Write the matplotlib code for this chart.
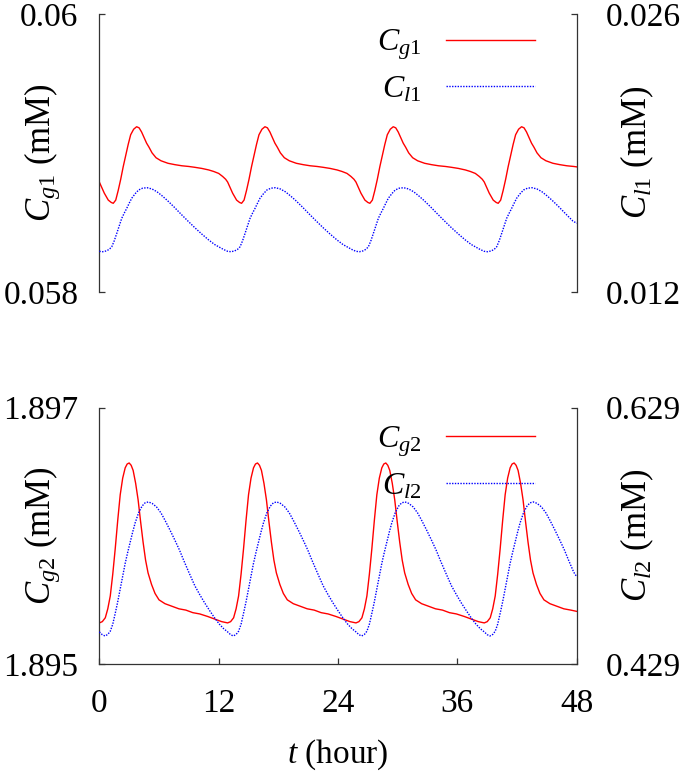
import numpy as np
import matplotlib
matplotlib.use('Agg')
import matplotlib.pyplot as plt

plt.rcParams['font.family'] = ['Liberation Serif', 'DejaVu Serif']
plt.rcParams['mathtext.fontset'] = 'custom'
plt.rcParams['mathtext.rm'] = 'Liberation Serif'
plt.rcParams['mathtext.it'] = 'Liberation Serif:italic'

# ---- top panel: C_g1 (left axis) ----
T_CG1 = [0.0, 0.5, 0.9, 1.2, 1.4, 1.65, 1.9, 2.15, 2.4, 2.65, 2.9, 3.15, 3.45, 3.75, 4.0, 4.25, 4.5,
         4.75, 5.0, 5.3, 5.7, 6.2, 6.9, 7.6, 8.3, 9.0, 9.6, 10.3, 11.0, 11.5, 12.0, 12.4, 12.7,
         12.9, 13.4, 13.8, 14.1, 14.3, 14.55, 14.8, 15.05, 15.3, 15.55, 15.8, 16.05, 16.35, 16.65, 16.9, 17.15, 17.4,
         17.65, 17.9, 18.2, 18.6, 19.1, 19.8, 20.5, 21.2, 21.9, 22.5, 23.2, 23.9, 24.4, 24.9, 25.3, 25.6,
         25.8, 26.3, 26.7, 27.0, 27.2, 27.45, 27.7, 27.95, 28.2, 28.45, 28.7, 28.95, 29.25, 29.55, 29.8, 30.05, 30.3,
         30.55, 30.8, 31.1, 31.5, 32.0, 32.7, 33.4, 34.1, 34.8, 35.4, 36.1, 36.8, 37.3, 37.8, 38.2, 38.5,
         38.7, 39.2, 39.6, 39.9, 40.1, 40.35, 40.6, 40.85, 41.1, 41.35, 41.6, 41.85, 42.15, 42.45, 42.7, 42.95, 43.2,
         43.45, 43.7, 44.0, 44.4, 44.9, 45.6, 46.3, 47.0, 47.7, 48.0]
CG1 = [0.05879, 0.05871, 0.05866, 0.058643, 0.058637, 0.05866, 0.05873, 0.05881, 0.05890, 0.05898, 0.05906,
       0.05913, 0.05917, 0.059188, 0.05918, 0.05915, 0.05911, 0.05907, 0.05904, 0.05900, 0.058965, 0.058943,
       0.058925, 0.058915, 0.058907, 0.058902, 0.058896, 0.058888, 0.058877, 0.058866, 0.058852, 0.05883, 0.05881,
       0.05879, 0.05871, 0.05866, 0.058643, 0.058637, 0.05866, 0.05873, 0.05881, 0.05890, 0.05898, 0.05906,
       0.05913, 0.05917, 0.059188, 0.05918, 0.05915, 0.05911, 0.05907, 0.05904, 0.05900, 0.058965, 0.058943,
       0.058925, 0.058915, 0.058907, 0.058902, 0.058896, 0.058888, 0.058877, 0.058866, 0.058852, 0.05883, 0.05881,
       0.05879, 0.05871, 0.05866, 0.058643, 0.058637, 0.05866, 0.05873, 0.05881, 0.05890, 0.05898, 0.05906,
       0.05913, 0.05917, 0.059188, 0.05918, 0.05915, 0.05911, 0.05907, 0.05904, 0.05900, 0.058965, 0.058943,
       0.058925, 0.058915, 0.058907, 0.058902, 0.058896, 0.058888, 0.058877, 0.058866, 0.058852, 0.05883, 0.05881,
       0.05879, 0.05871, 0.05866, 0.058643, 0.058637, 0.05866, 0.05873, 0.05881, 0.05890, 0.05898, 0.05906,
       0.05913, 0.05917, 0.059188, 0.05918, 0.05915, 0.05911, 0.05907, 0.05904, 0.05900, 0.058965, 0.058943,
       0.058925, 0.058915, 0.058907, 0.058902, 0.058899]

# ---- top panel: C_l1 (right axis) ----
T_CL1 = [0.0, 0.35, 0.7, 1.0, 1.25, 1.5, 1.75, 2.0, 2.25, 2.5, 2.75, 3.0, 3.25, 3.6, 3.95, 4.35, 4.8, 5.3,
         5.8, 6.3, 6.8, 7.5, 8.2, 8.9, 9.6, 10.3, 11.0, 11.6, 12.1, 12.5,
         12.9, 13.25, 13.6, 13.9, 14.15, 14.4, 14.65, 14.9, 15.15, 15.4, 15.65, 15.9, 16.15, 16.5, 16.85, 17.25, 17.7,
         18.2, 18.7, 19.2, 19.7, 20.4, 21.1, 21.8, 22.5, 23.2, 23.9, 24.5, 25.0, 25.4,
         25.8, 26.15, 26.5, 26.8, 27.05, 27.3, 27.55, 27.8, 28.05, 28.3, 28.55, 28.8, 29.05, 29.4, 29.75, 30.15, 30.6,
         31.1, 31.6, 32.1, 32.6, 33.3, 34.0, 34.7, 35.4, 36.1, 36.8, 37.4, 37.9, 38.3,
         38.7, 39.05, 39.4, 39.7, 39.95, 40.2, 40.45, 40.7, 40.95, 41.2, 41.45, 41.7, 41.95, 42.3, 42.65, 43.05, 43.5,
         44.0, 44.5, 45.0, 45.5, 46.2, 46.9, 47.6, 48.0]
CL1 = [0.01404, 0.01402, 0.01406, 0.01414, 0.01427, 0.01457, 0.01494, 0.01532, 0.01570, 0.01596, 0.01620,
       0.01646, 0.01671, 0.01694, 0.01713, 0.01722, 0.017245, 0.01718, 0.01704, 0.01684, 0.01662, 0.01628,
       0.01592, 0.01557, 0.01523, 0.01491, 0.01461, 0.01438, 0.01424, 0.01413,
       0.01404, 0.01402, 0.01406, 0.01414, 0.01427, 0.01457, 0.01494, 0.01532, 0.01570, 0.01596, 0.01620,
       0.01646, 0.01671, 0.01694, 0.01713, 0.01722, 0.017245, 0.01718, 0.01704, 0.01684, 0.01662, 0.01628,
       0.01592, 0.01557, 0.01523, 0.01491, 0.01461, 0.01438, 0.01424, 0.01413,
       0.01404, 0.01402, 0.01406, 0.01414, 0.01427, 0.01457, 0.01494, 0.01532, 0.01570, 0.01596, 0.01620,
       0.01646, 0.01671, 0.01694, 0.01713, 0.01722, 0.017245, 0.01718, 0.01704, 0.01684, 0.01662, 0.01628,
       0.01592, 0.01557, 0.01523, 0.01491, 0.01461, 0.01438, 0.01424, 0.01413,
       0.01404, 0.01402, 0.01406, 0.01414, 0.01427, 0.01457, 0.01494, 0.01532, 0.01570, 0.01596, 0.01620,
       0.01646, 0.01671, 0.01694, 0.01713, 0.01722, 0.017245, 0.01718, 0.01704, 0.01684, 0.01662, 0.01628,
       0.01592, 0.01557, 0.01545]

# ---- bottom panel: C_g2 (left axis) ----
T_CG2 = [0.0, 0.3, 0.6, 0.85, 1.1, 1.35, 1.6, 1.85, 2.1, 2.35, 2.6, 2.8, 3.0, 3.2, 3.4, 3.65, 3.9, 4.15,
         4.4, 4.65, 4.9, 5.25, 5.6, 6.0, 6.6, 7.3, 8.0, 8.7, 9.4, 10.1, 10.9, 11.6, 12.3,
         12.9, 13.2, 13.5, 13.75, 14.0, 14.25, 14.5, 14.75, 15.0, 15.25, 15.5, 15.7, 15.9, 16.1, 16.3, 16.55, 16.8,
         17.05, 17.3, 17.55, 17.8, 18.15, 18.5, 18.9, 19.5, 20.2, 20.9, 21.6, 22.3, 23.0, 23.8, 24.5, 25.2,
         25.8, 26.1, 26.4, 26.65, 26.9, 27.15, 27.4, 27.65, 27.9, 28.15, 28.4, 28.6, 28.8, 29.0, 29.2, 29.45, 29.7,
         29.95, 30.2, 30.45, 30.7, 31.05, 31.4, 31.8, 32.4, 33.1, 33.8, 34.5, 35.2, 35.9, 36.7, 37.4, 38.1,
         38.7, 39.0, 39.3, 39.55, 39.8, 40.05, 40.3, 40.55, 40.8, 41.05, 41.3, 41.5, 41.7, 41.9, 42.1, 42.35, 42.6,
         42.85, 43.1, 43.35, 43.6, 43.95, 44.3, 44.7, 45.3, 46.0, 46.7, 47.4, 48.0]
CG2 = [1.89532, 1.89533, 1.89536, 1.89543, 1.89553, 1.89570, 1.89590, 1.89612, 1.89632, 1.89645, 1.89653,
       1.89656, 1.896568, 1.89655, 1.89651, 1.89641, 1.89628, 1.89611, 1.89595, 1.89581, 1.89571, 1.89562,
       1.89555, 1.89550, 1.89547, 1.89545, 1.89543, 1.89542, 1.89540, 1.89539, 1.89537, 1.89535, 1.89533,
       1.89532, 1.89533, 1.89536, 1.89543, 1.89553, 1.89570, 1.89590, 1.89612, 1.89632, 1.89645, 1.89653,
       1.89656, 1.896568, 1.89655, 1.89651, 1.89641, 1.89628, 1.89611, 1.89595, 1.89581, 1.89571, 1.89562,
       1.89555, 1.89550, 1.89547, 1.89545, 1.89543, 1.89542, 1.89540, 1.89539, 1.89537, 1.89535, 1.89533,
       1.89532, 1.89533, 1.89536, 1.89543, 1.89553, 1.89570, 1.89590, 1.89612, 1.89632, 1.89645, 1.89653,
       1.89656, 1.896568, 1.89655, 1.89651, 1.89641, 1.89628, 1.89611, 1.89595, 1.89581, 1.89571, 1.89562,
       1.89555, 1.89550, 1.89547, 1.89545, 1.89543, 1.89542, 1.89540, 1.89539, 1.89537, 1.89535, 1.89533,
       1.89532, 1.89533, 1.89536, 1.89543, 1.89553, 1.89570, 1.89590, 1.89612, 1.89632, 1.89645, 1.89653,
       1.89656, 1.896568, 1.89655, 1.89651, 1.89641, 1.89628, 1.89611, 1.89595, 1.89581, 1.89571, 1.89562,
       1.89555, 1.89550, 1.89547, 1.89545, 1.89543, 1.89542, 1.89541]

# ---- bottom panel: C_l2 (right axis) ----
T_CL2 = [0.0, 0.3, 0.57, 0.85, 1.1, 1.35, 1.6, 1.85, 2.1, 2.35, 2.6, 2.85, 3.1, 3.35, 3.6, 3.95, 4.3, 4.6,
         4.93, 5.3, 5.75, 6.2, 6.6, 7.1, 7.6, 8.05, 8.5, 9.0, 9.6, 10.1, 10.6, 11.1, 11.6, 12.05, 12.5,
         12.9, 13.2, 13.47, 13.75, 14.0, 14.25, 14.5, 14.75, 15.0, 15.25, 15.5, 15.75, 16.0, 16.25, 16.5, 16.85, 17.2,
         17.5, 17.83, 18.2, 18.65, 19.1, 19.5, 20.0, 20.5, 20.95, 21.4, 21.9, 22.5, 23.0, 23.5, 24.0, 24.5, 24.95, 25.4,
         25.8, 26.1, 26.37, 26.65, 26.9, 27.15, 27.4, 27.65, 27.9, 28.15, 28.4, 28.65, 28.9, 29.15, 29.4, 29.75, 30.1,
         30.4, 30.73, 31.1, 31.55, 32.0, 32.4, 32.9, 33.4, 33.85, 34.3, 34.8, 35.4, 35.9, 36.4, 36.9, 37.4, 37.85, 38.3,
         38.7, 39.0, 39.27, 39.55, 39.8, 40.05, 40.3, 40.55, 40.8, 41.05, 41.3, 41.55, 41.8, 42.05, 42.3, 42.65, 43.0,
         43.3, 43.63, 44.0, 44.45, 44.9, 45.3, 45.8, 46.3, 46.75, 47.2, 47.7, 48.0]
CL2 = [0.4540, 0.4518, 0.4508, 0.4520, 0.4545, 0.4600, 0.4685, 0.4775, 0.4875, 0.4975, 0.5075, 0.5160,
       0.5240, 0.5318, 0.5390, 0.5470, 0.5522, 0.5547, 0.5554, 0.5543, 0.5515, 0.5468, 0.5411, 0.5335,
       0.5255, 0.5180, 0.5095, 0.5005, 0.4900, 0.4830, 0.4765, 0.4705, 0.4648, 0.4602, 0.4565,
       0.4540, 0.4518, 0.4508, 0.4520, 0.4545, 0.4600, 0.4685, 0.4775, 0.4875, 0.4975, 0.5075, 0.5160,
       0.5240, 0.5318, 0.5390, 0.5470, 0.5522, 0.5547, 0.5554, 0.5543, 0.5515, 0.5468, 0.5411, 0.5335,
       0.5255, 0.5180, 0.5095, 0.5005, 0.4900, 0.4830, 0.4765, 0.4705, 0.4648, 0.4602, 0.4565,
       0.4540, 0.4518, 0.4508, 0.4520, 0.4545, 0.4600, 0.4685, 0.4775, 0.4875, 0.4975, 0.5075, 0.5160,
       0.5240, 0.5318, 0.5390, 0.5470, 0.5522, 0.5547, 0.5554, 0.5543, 0.5515, 0.5468, 0.5411, 0.5335,
       0.5255, 0.5180, 0.5095, 0.5005, 0.4900, 0.4830, 0.4765, 0.4705, 0.4648, 0.4602, 0.4565,
       0.4540, 0.4518, 0.4508, 0.4520, 0.4545, 0.4600, 0.4685, 0.4775, 0.4875, 0.4975, 0.5075, 0.5160,
       0.5240, 0.5318, 0.5390, 0.5470, 0.5522, 0.5547, 0.5554, 0.5543, 0.5515, 0.5468, 0.5411, 0.5335,
       0.5255, 0.5180, 0.5095, 0.5005, 0.4970]

X_TICKS = [0, 12, 24, 36, 48]
X_LABELS = ['0', '12', '24', '36', '48']
TOP_L_TICKS, TOP_L_LABELS = [0.058, 0.06], ['0.058', '0.06']
TOP_R_TICKS, TOP_R_LABELS = [0.012, 0.026], ['0.012', '0.026']
BOT_L_TICKS, BOT_L_LABELS = [1.895, 1.897], ['1.895', '1.897']
BOT_R_TICKS, BOT_R_LABELS = [0.429, 0.629], ['0.429', '0.629']

SPINE = '#333333'
RED = '#ff0000'
BLUE = '#0000ff'
FS = 24

fig = plt.figure(figsize=(6.85, 7.72), dpi=100)
ax1 = fig.add_axes([0.145, 0.622, 0.697, 0.360])
ax2 = fig.add_axes([0.145, 0.140, 0.697, 0.332])


def setup(ax, lticks, llabels, rticks, rlabels, bottom):
    axr = ax.twinx()
    ax.set_xlim(0, 48)
    ax.set_ylim(lticks[0], lticks[1])
    axr.set_ylim(rticks[0], rticks[1])
    for s in ax.spines.values():
        s.set_color(SPINE)
        s.set_linewidth(0.9)
    ax.spines['top'].set_visible(False)
    ax.spines['bottom'].set_visible(bottom)
    for s in axr.spines.values():
        s.set_visible(False)
    ax.set_yticks(lticks)
    ax.set_yticklabels(llabels)
    axr.set_yticks(rticks)
    axr.set_yticklabels(rlabels)
    ax.tick_params(axis='y', direction='in', length=4, width=0.9, color=SPINE,
                   labelsize=FS, pad=15)
    axr.tick_params(axis='y', direction='in', length=4, width=0.9, color=SPINE,
                    labelsize=FS, pad=21)
    if bottom:
        ax.set_xticks(X_TICKS)
        ax.set_xticklabels(X_LABELS)
        ax.tick_params(axis='x', direction='in', length=4, width=0.9, color=SPINE,
                       labelsize=FS, pad=18)
    else:
        ax.set_xticks([])
    return axr


ax1r = setup(ax1, TOP_L_TICKS, TOP_L_LABELS, TOP_R_TICKS, TOP_R_LABELS, False)
ax2r = setup(ax2, BOT_L_TICKS, BOT_L_LABELS, BOT_R_TICKS, BOT_R_LABELS, True)

l1, = ax1.plot(T_CG1, CG1, color=RED, lw=1.0, label=r'$C_{g1}$')
l2, = ax1r.plot(T_CL1, CL1, color=BLUE, lw=1.0, dashes=(1, 1), label=r'$C_{l1}$')
l3, = ax2.plot(T_CG2, CG2, color=RED, lw=1.0, label=r'$C_{g2}$')
l4, = ax2r.plot(T_CL2, CL2, color=BLUE, lw=1.0, dashes=(1, 1), label=r'$C_{l2}$')

for axr, handles, ytop in [(ax1r, [l1, l2], 0.95), (ax2r, [l3, l4], 0.935)]:
    leg = axr.legend(handles=handles, loc='upper right', bbox_to_anchor=(0.913, ytop),
                     frameon=False, markerfirst=False, fontsize=23, handlelength=2.8,
                     handletextpad=0.75, labelspacing=0.4, borderpad=0, borderaxespad=0)

fig.text(0.062, 0.802, r'$C_{g1}$ (mM)', rotation=90, ha='center', va='center', fontsize=25)
fig.text(0.930, 0.802, r'$C_{l1}$ (mM)', rotation=90, ha='center', va='center', fontsize=25)
fig.text(0.062, 0.306, r'$C_{g2}$ (mM)', rotation=90, ha='center', va='center', fontsize=25)
fig.text(0.930, 0.306, r'$C_{l2}$ (mM)', rotation=90, ha='center', va='center', fontsize=25)
fig.text(0.4934, 0.022, r'$t$ (hour)', ha='center', va='center', fontsize=FS)

fig.savefig('out.png', dpi=100)
